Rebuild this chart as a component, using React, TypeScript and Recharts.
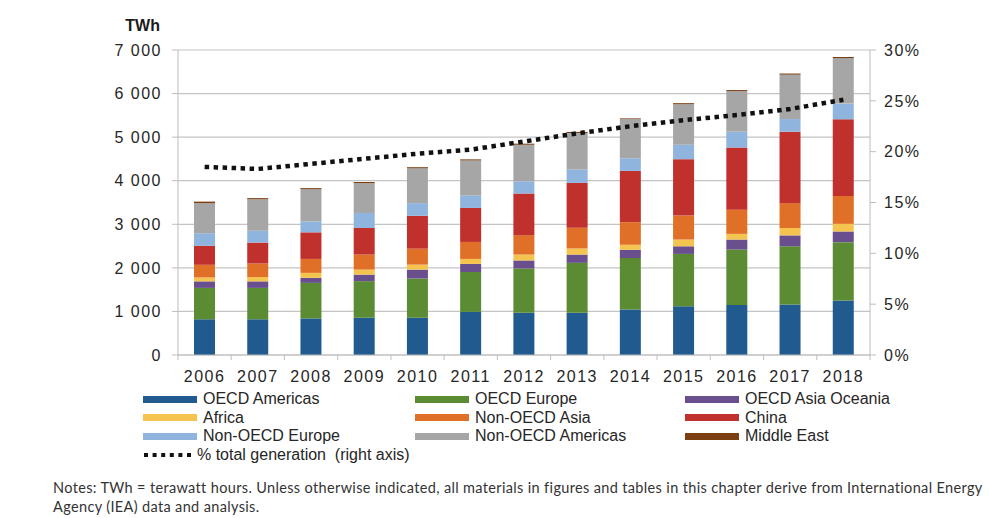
import { ComposedChart, Bar, Line, XAxis, YAxis, CartesianGrid } from 'recharts';

const years = ['2006', '2007', '2008', '2009', '2010', '2011', '2012', '2013', '2014', '2015', '2016', '2017', '2018'];

// TWh per region
const oecdAmericas = [820, 820, 840, 855, 855, 990, 970, 970, 1045, 1120, 1145, 1160, 1250];
const oecdEurope = [720, 720, 815, 840, 900, 915, 1015, 1145, 1180, 1200, 1275, 1335, 1340];
const oecdAsiaOceania = [150, 150, 115, 150, 205, 185, 185, 190, 190, 175, 230, 250, 245];
const africa = [90, 100, 115, 115, 115, 115, 135, 140, 115, 155, 130, 170, 175];
const nonOecdAsia = [290, 310, 320, 345, 365, 390, 445, 475, 520, 550, 555, 570, 640];
const china = [435, 480, 610, 610, 755, 780, 955, 1030, 1175, 1295, 1425, 1640, 1760];
const nonOecdEurope = [290, 270, 250, 345, 290, 290, 280, 305, 290, 330, 365, 290, 360];
const nonOecdAmericas = [690, 725, 740, 685, 800, 800, 840, 840, 900, 930, 930, 1020, 1045];
const middleEast = [35, 25, 25, 25, 25, 25, 25, 25, 15, 25, 25, 25, 25];

// % of total generation (right axis)
const shareOfGeneration = [18.5, 18.3, 18.8, 19.3, 19.8, 20.2, 21.0, 21.8, 22.5, 23.1, 23.6, 24.2, 25.1];

const leftTicks = [0, 1000, 2000, 3000, 4000, 5000, 6000, 7000];
const rightTicks = [0, 5, 10, 15, 20, 25, 30];

const series = [
  { key: 'oecdAmericas', name: 'OECD Americas', color: '#215a8f', values: oecdAmericas },
  { key: 'oecdEurope', name: 'OECD Europe', color: '#5b8c34', values: oecdEurope },
  { key: 'oecdAsiaOceania', name: 'OECD Asia Oceania', color: '#6a4f8f', values: oecdAsiaOceania },
  { key: 'africa', name: 'Africa', color: '#f4c44e', values: africa },
  { key: 'nonOecdAsia', name: 'Non-OECD Asia', color: '#e06f28', values: nonOecdAsia },
  { key: 'china', name: 'China', color: '#c0302c', values: china },
  { key: 'nonOecdEurope', name: 'Non-OECD Europe', color: '#8fb4dd', values: nonOecdEurope },
  { key: 'nonOecdAmericas', name: 'Non-OECD Americas', color: '#a6a6a6', values: nonOecdAmericas },
  { key: 'middleEast', name: 'Middle East', color: '#7b3f13', values: middleEast },
];

// legend is laid out row by row, three columns
const legendOrder = [
  ['oecdAmericas', 'oecdEurope', 'oecdAsiaOceania'],
  ['africa', 'nonOecdAsia', 'china'],
  ['nonOecdEurope', 'nonOecdAmericas', 'middleEast'],
];

const data = years.map((year, i) => {
  const row: Record<string, string | number> = { year, share: shareOfGeneration[i] };
  series.forEach((s) => {
    row[s.key] = s.values[i];
  });
  return row;
});

const PLOT_LEFT = 178;
const PLOT_RIGHT = 870;
const PLOT_BOTTOM = 355;
const BAND = (PLOT_RIGHT - PLOT_LEFT) / years.length;
const AXIS_COLOR = '#bdbdbd';
const FONT = '"Liberation Sans", Arial, sans-serif';

const tickStyle = { fontSize: 16, fill: '#262626', fontFamily: FONT, letterSpacing: 1.5 };

const YearTick = (props: any) => {
  const { x, y, payload, index } = props;
  return (
    <g>
      <line x1={x - BAND / 2} x2={x - BAND / 2} y1={PLOT_BOTTOM} y2={PLOT_BOTTOM + 5} stroke={AXIS_COLOR} />
      {index === years.length - 1 && (
        <line x1={x + BAND / 2} x2={x + BAND / 2} y1={PLOT_BOTTOM} y2={PLOT_BOTTOM + 5} stroke={AXIS_COLOR} />
      )}
      <text x={x} y={y} dy="0.71em" textAnchor="middle" {...tickStyle}>
        {payload.value}
      </text>
    </g>
  );
};

const formatTwh = (v: number) => (v >= 1000 ? `${Math.floor(v / 1000)} ${String(v % 1000).padStart(3, '0')}` : `${v}`);

const colLeft = [143, 415, 685];
const rowTop = [390, 408.5, 427, 445.5];

const App = () => {
  return (
    <div style={{ position: 'absolute', left: 0, top: 0, width: 989, height: 518, background: '#fff', overflow: 'hidden', fontFamily: FONT }}>
      <div style={{ position: 'absolute', left: 100, width: 60, top: 17, textAlign: 'right', fontSize: 16, fontWeight: 'bold', color: '#1a1a1a' }}>
        TWh
      </div>
      <div style={{ position: 'absolute', left: 0, top: 0 }}>
        <ComposedChart width={989} height={392} data={data} margin={{ top: 50, right: 0, left: 0, bottom: 0 }} barSize={21}>
          <CartesianGrid vertical={false} stroke="#c4c4c4" strokeWidth={1.2} yAxisId="twh" />
          <XAxis
            dataKey="year"
            height={37}
            axisLine={{ stroke: AXIS_COLOR }}
            tickLine={false}
            tickSize={5}
            tickMargin={11}
            tick={<YearTick />}
            interval={0}
          />
          <YAxis
            yAxisId="twh"
            width={178}
            domain={[0, 7000]}
            ticks={leftTicks}
            tickFormatter={formatTwh}
            axisLine={{ stroke: AXIS_COLOR }}
            tickLine={{ stroke: AXIS_COLOR }}
            tickSize={6}
            tickMargin={10}
            tick={tickStyle}
            interval={0}
          />
          <YAxis
            yAxisId="pct"
            orientation="right"
            width={119}
            domain={[0, 30]}
            ticks={rightTicks}
            tickFormatter={(v: number) => `${v}%`}
            axisLine={{ stroke: AXIS_COLOR }}
            tickLine={{ stroke: AXIS_COLOR }}
            tickSize={6}
            tickMargin={8}
            tick={{ ...tickStyle, textAnchor: 'start' }}
            interval={0}
          />
          {series.map((s) => (
            <Bar key={s.key} dataKey={s.key} name={s.name} stackId="gen" yAxisId="twh" fill={s.color} isAnimationActive={false} />
          ))}
          <Line
            dataKey="share"
            yAxisId="pct"
            type="linear"
            stroke="#111"
            strokeWidth={4.5}
            strokeDasharray="4.5 4.5"
            dot={false}
            activeDot={false}
            isAnimationActive={false}
          />
        </ComposedChart>
      </div>

      {legendOrder.map((row, r) =>
        row.map((key, c) => {
          const s = series.find((x) => x.key === key)!;
          return (
            <div key={key} style={{ position: 'absolute', left: colLeft[c], top: rowTop[r], height: 18, display: 'flex', alignItems: 'center' }}>
              <span style={{ display: 'inline-block', width: 54, height: 7, background: s.color, marginRight: 6 }} />
              <span style={{ fontSize: 16, color: '#262626', whiteSpace: 'nowrap' }}>{s.name}</span>
            </div>
          );
        })
      )}
      <div style={{ position: 'absolute', left: colLeft[0], top: rowTop[3], height: 18, display: 'flex', alignItems: 'center' }}>
        <svg width={50} height={8} style={{ marginRight: 4 }}>
          <line x1={1} x2={48} y1={4} y2={4} stroke="#111" strokeWidth={4} strokeDasharray="4 4.6" />
        </svg>
        <span style={{ fontSize: 16, color: '#262626', whiteSpace: 'pre' }}>% total generation  (right axis)</span>
      </div>

      <div style={{ position: 'absolute', left: 53, top: 478, fontFamily: 'Lato, "Open Sans", sans-serif', fontSize: 14.5, letterSpacing: 0.35, lineHeight: '19px', color: '#333', whiteSpace: 'nowrap' }}>
        Notes: TWh = terawatt hours. Unless otherwise indicated, all materials in figures and tables in this chapter derive from International Energy
        <br />
        Agency (IEA) data and analysis.
      </div>
    </div>
  );
};

export default App;
